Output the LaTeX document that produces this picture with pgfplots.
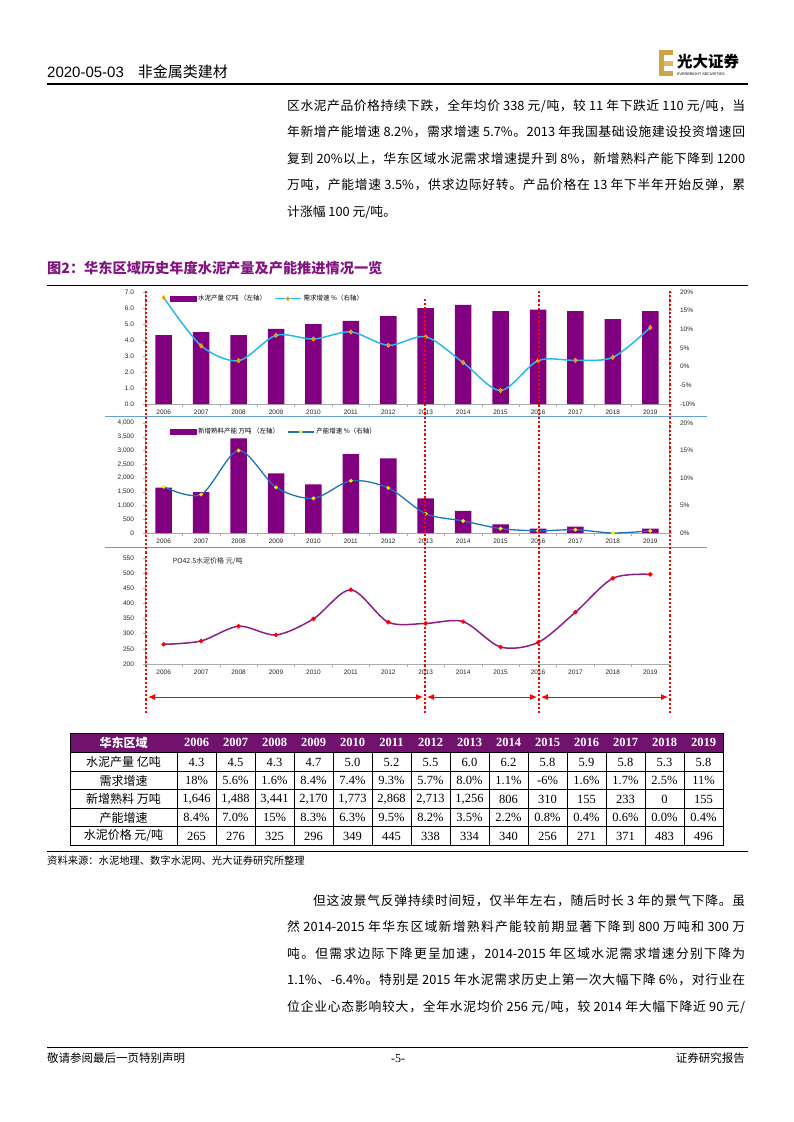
\documentclass[border=0pt]{standalone}
\usepackage{pgfplots}
\pgfplotsset{compat=1.18}
\usepackage{fontspec}
\setmainfont{Liberation Sans}
\newfontfamily\cjk{Noto Sans CJK SC}
\newfontfamily\tms{Liberation Serif}
\usetikzlibrary{arrows.meta}

% inter-character glue for justified CJK lines
\XeTeXinterchartokenstate=1
\newXeTeXintercharclass\cjkclass
\count255="4E00
\loop \XeTeXcharclass\count255=\cjkclass \advance\count255 by 1 \ifnum\count255<"A000 \repeat
\count255="3000
\loop \XeTeXcharclass\count255=\cjkclass \advance\count255 by 1 \ifnum\count255<"3040 \repeat
\count255="FF00
\loop \XeTeXcharclass\count255=\cjkclass \advance\count255 by 1 \ifnum\count255<"FFF0 \repeat
\XeTeXinterchartoks\cjkclass\cjkclass={\hskip 0pt plus 3pt minus 0.4pt\relax}
\XeTeXinterchartoks 0 \cjkclass={\hskip 0pt plus 3pt minus 0.4pt\relax}
\XeTeXinterchartoks\cjkclass 0 ={\hskip 0pt plus 3pt minus 0.4pt\relax}

\definecolor{barpurple}{RGB}{128,0,128}
\definecolor{titlepurple}{RGB}{130,20,130}
\definecolor{headpurple}{RGB}{112,18,110}
\definecolor{cyanline}{RGB}{40,185,235}
\definecolor{blueline}{RGB}{30,115,190}
\definecolor{sepblue}{RGB}{100,160,215}
\definecolor{priceline}{RGB}{140,30,140}
\definecolor{gold}{RGB}{205,165,70}
\definecolor{axgray}{RGB}{170,170,170}

\newcommand{\bl}[4]{\node[anchor=base west, inner sep=0pt] at (#1pt,-#2pt) {\cjk\fontsize{12.8}{13}\selectfont\hbox to #3pt{#4}};}
\newcommand{\trow}[2]{\foreach \v [count=\i] in {#2} {\node[font=\tms\fontsize{12.5}{12.5}\selectfont] at ({(157.5+39*\i)*1pt},{-#1*1pt}) {\v};}}

\pgfplotsset{
  myax/.style={scale only axis, width=524pt, xmin=-0.5, xmax=13.5,
    /pgf/number format/assume math mode=true,
    tick label style={font=\fontsize{6.5}{7}\selectfont, text=black!85},
    axis line style={draw=axgray, line width=0.6pt},
    tick style={draw=axgray, line width=0.5pt},
    major tick length=2.5pt, tick align=outside,
  },
  yrs/.style={xtick={-0.5,0.5,...,13.5}, x tick label as interval,
    xticklabels={2006,2007,2008,2009,2010,2011,2012,2013,2014,2015,2016,2017,2018,2019}},
}

\begin{document}
\begin{tikzpicture}
\path[fill=white] (0pt,0pt) rectangle (793pt,-1122pt);

% ---------- header ----------
\node[anchor=base west, inner sep=0pt] at (47pt,-77pt) {\fontsize{15}{15}\selectfont 2020-05-03\hspace{14pt}{\cjk 非金属类建材}};
\draw[line width=1.3pt] (47pt,-84pt) -- (748pt,-84pt);
\fill[gold] (659pt,-50pt) rectangle (664pt,-76pt);
\fill[gold] (664pt,-50pt) rectangle (673pt,-55pt);
\fill[gold!80!white] (664pt,-60.5pt) rectangle (673pt,-65.5pt);
\fill[gold] (664pt,-71pt) rectangle (673pt,-76pt);
\node[anchor=base west, inner sep=0pt] at (677pt,-67pt) {\cjk\bfseries\fontsize{15.5}{16}\selectfont 光大证券};
\node[anchor=base west, inner sep=0pt] at (677pt,-75.5pt) {\fontsize{3.7}{4}\selectfont EVERBRIGHT SECURITIES};

% ---------- paragraph 1 ----------
\bl{287}{110}{458}{区水泥产品价格持续下跌，全年均价 338 元/吨，较 11 年下跌近 110 元/吨，当}
\bl{287}{136.5}{458}{年新增产能增速 8.2\%，需求增速 5.7\%。2013 年我国基础设施建设投资增速回}
\bl{287}{163}{458}{复到 20\%以上，华东区域水泥需求增速提升到 8\%，新增熟料产能下降到 1200}
\bl{287}{189.5}{458}{万吨，产能增速 3.5\%，供求边际好转。产品价格在 13 年下半年开始反弹，累}
\node[anchor=base west, inner sep=0pt] at (287pt,-216pt) {\cjk\fontsize{12.8}{13}\selectfont 计涨幅 100 元/吨。};

% ---------- figure title ----------
\node[anchor=base west, inner sep=0pt] at (47pt,-273pt) {\cjk\bfseries\fontsize{14.2}{15}\selectfont\color{titlepurple} 图2：华东区域历史年度水泥产量及产能推进情况一览};
\draw[line width=0.8pt] (47pt,-285pt) -- (748pt,-285pt);

% ---------- chart 1 ----------
\begin{axis}[myax, yrs, at={(145pt,-404pt)}, anchor=south west, height=112pt,
  ymin=0, ymax=7, ytick={0,1,...,7},
  yticklabel style={xshift=-5pt, /pgf/number format/.cd, fixed, fixed zerofill, precision=1},
  axis x line*=bottom, axis y line*=left]
\addplot[ybar, bar width=16.5pt, fill=barpurple, draw=none] coordinates {
 (0,4.3) (1,4.5) (2,4.3) (3,4.7) (4,5.0) (5,5.2) (6,5.5) (7,6.0) (8,6.2) (9,5.8) (10,5.9) (11,5.8) (12,5.3) (13,5.8)};
\end{axis}
\begin{axis}[myax, at={(145pt,-404pt)}, anchor=south west, height=112pt,
  ymin=-10, ymax=20, ytick={-10,-5,...,20},
  yticklabels={-10\%,-5\%,0\%,5\%,10\%,15\%,20\%},
  yticklabel style={xshift=5pt},
  axis y line*=right, axis x line=none,
  legend style={at={(0.045,1)}, anchor=north west, draw=none, fill=none, legend columns=2,
    font=\cjk\fontsize{6.5}{7}\selectfont, inner sep=1pt,
    /tikz/every even column/.append style={column sep=6pt}},
  legend image code/.code={\draw[#1] (0pt,0pt) -- (26pt,0pt); \draw[#1, sharp plot] plot coordinates {(13pt,0pt)};}]
\addlegendimage{legend image code/.code={\fill[barpurple] (0pt,-2.5pt) rectangle (26pt,2.5pt);}}
\addlegendentry{水泥产量 亿吨 （左轴）}
\addplot[smooth, cyanline, line width=1.5pt, mark=diamond*, mark size=2.3pt,
  mark options={fill=orange, draw=yellow!70!orange, line width=0.4pt}] coordinates {
 (0,18.5) (1,5.6) (2,1.6) (3,8.4) (4,7.4) (5,9.3) (6,5.7) (7,8.0) (8,1.1) (9,-6.4) (10,1.6) (11,1.7) (12,2.5) (13,10.5)};
\addlegendentry{需求增速 \%（右轴）}
\end{axis}

\draw[sepblue, line width=1pt] (105pt,-416pt) -- (707pt,-416pt);

% ---------- chart 2 ----------
\begin{axis}[myax, yrs, at={(145pt,-533pt)}, anchor=south west, height=110pt,
  ymin=0, ymax=4000, ytick={0,500,...,4000},
  yticklabel style={xshift=-5pt, /pgf/number format/.cd, fixed, 1000 sep={,}},
  axis x line*=bottom, axis y line*=left]
\addplot[ybar, bar width=16.5pt, fill=barpurple, draw=none] coordinates {
 (0,1646) (1,1488) (2,3441) (3,2170) (4,1773) (5,2868) (6,2713) (7,1256) (8,806) (9,310) (10,155) (11,233) (12,0) (13,155)};
\end{axis}
\begin{axis}[myax, at={(145pt,-533pt)}, anchor=south west, height=110pt,
  ymin=0, ymax=20, ytick={0,5,...,20},
  yticklabels={0\%,5\%,10\%,15\%,20\%},
  yticklabel style={xshift=5pt},
  axis y line*=right, axis x line=none,
  legend style={at={(0.045,0.98)}, anchor=north west, draw=none, fill=none, legend columns=2,
    font=\cjk\fontsize{6.5}{7}\selectfont, inner sep=1pt,
    /tikz/every even column/.append style={column sep=6pt}},
  legend image code/.code={\draw[#1] (0pt,0pt) -- (26pt,0pt); \draw[#1, sharp plot] plot coordinates {(13pt,0pt)};}]
\addlegendimage{legend image code/.code={\fill[barpurple] (0pt,-2.5pt) rectangle (26pt,2.5pt);}}
\addlegendentry{新增熟料产能 万吨 （左轴）}
\addplot[smooth, blueline, line width=1.3pt, mark=*, mark size=1.8pt,
  mark options={fill=yellow, draw=yellow!85!orange, line width=0.3pt}] coordinates {
 (0,8.4) (1,7.0) (2,15.0) (3,8.3) (4,6.3) (5,9.5) (6,8.2) (7,3.5) (8,2.2) (9,0.8) (10,0.4) (11,0.6) (12,0.0) (13,0.4)};
\addlegendentry{产能增速 \%（右轴）}
\end{axis}

\draw[sepblue, line width=1pt] (105pt,-547pt) -- (707pt,-547pt);

% ---------- chart 3 ----------
\begin{axis}[myax, yrs, at={(145pt,-664pt)}, anchor=south west, height=106pt,
  ymin=200, ymax=550, ytick={200,250,...,550}, clip=false,
  yticklabel style={xshift=-5pt},
  axis x line*=bottom, axis y line*=left]
\addplot[smooth, priceline, line width=1.5pt, mark=*, mark size=1.4pt,
  mark options={fill=red, draw=red}] coordinates {
 (0,265) (1,276) (2,325) (3,296) (4,349) (5,445) (6,338) (7,334) (8,340) (9,256) (10,271) (11,371) (12,483) (13,496)};
\node[anchor=west, inner sep=0pt, font=\cjk\fontsize{7}{7}\selectfont, text=black!85] at (rel axis cs:0.053,0.97) {PO42.5水泥价格 元/吨};
\end{axis}

% ---------- red period markers ----------
\begin{scope}[red, line width=2.2pt, dash pattern=on 2.2pt off 2pt]
\draw (146pt,-291pt) -- (146pt,-714pt);
\draw (425pt,-299pt) -- (425pt,-714pt);
\draw (539pt,-291pt) -- (539pt,-714pt);
\draw (670pt,-291pt) -- (670pt,-714pt);
\end{scope}
\begin{scope}[red, line width=1pt, {Latex[length=7pt,width=6pt]}-{Latex[length=7pt,width=6pt]}]
\draw (148pt,-697pt) -- (423pt,-697pt);
\draw (427pt,-697pt) -- (537pt,-697pt);
\draw (541pt,-697pt) -- (668pt,-697pt);
\end{scope}

% ---------- table ----------
\fill[headpurple] (70pt,-733pt) rectangle (723pt,-752pt);
\node[white, font=\cjk\bfseries\fontsize{12}{12}\selectfont] at (123.5pt,-742.5pt) {华东区域};
\foreach \yr [count=\i] in {2006,2007,2008,2009,2010,2011,2012,2013,2014,2015,2016,2017,2018,2019}
  {\node[white, font=\tms\bfseries\fontsize{12.5}{12.5}\selectfont] at ({(157.5+39*\i)*1pt},-742.5pt) {\yr};}
\draw[line width=0.6pt] (70pt,-733pt) rectangle (723pt,-845pt);
\foreach \y in {752,771,789.5,808,826.5} {\draw[line width=0.6pt] (70pt,{-\y*1pt}) -- (723pt,{-\y*1pt});}
\foreach \k in {0,...,13} {\draw[line width=0.6pt] ({(177+39*\k)*1pt},-752pt) -- ({(177+39*\k)*1pt},-845pt);}
\foreach \lab/\y in {水泥产量 亿吨/762, 需求增速/780.5, 新增熟料 万吨/799, 产能增速/817.5, {水泥价格 元/吨}/836}
  {\node[font=\cjk\fontsize{12}{12}\selectfont] at (123.5pt,{-\y*1pt}) {\lab};}
\trow{762}{4.3,4.5,4.3,4.7,5.0,5.2,5.5,6.0,6.2,5.8,5.9,5.8,5.3,5.8}
\trow{780.5}{18\%,5.6\%,1.6\%,8.4\%,7.4\%,9.3\%,5.7\%,8.0\%,1.1\%,-6\%,1.6\%,1.7\%,2.5\%,11\%}
\trow{799}{{1,646},{1,488},{3,441},{2,170},{1,773},{2,868},{2,713},{1,256},806,310,155,233,0,155}
\trow{817.5}{8.4\%,7.0\%,15\%,8.3\%,6.3\%,9.5\%,8.2\%,3.5\%,2.2\%,0.8\%,0.4\%,0.6\%,0.0\%,0.4\%}
\trow{836}{265,276,325,296,349,445,338,334,340,256,271,371,483,496}

% ---------- source ----------
\draw[line width=0.9pt] (47pt,-851pt) -- (748pt,-851pt);
\node[anchor=base west, inner sep=0pt] at (47pt,-864pt) {\cjk\fontsize{10.3}{11}\selectfont 资料来源：水泥地理、数字水泥网、光大证券研究所整理};

% ---------- paragraph 2 ----------
\bl{313}{905}{432}{但这波景气反弹持续时间短，仅半年左右，随后时长 3 年的景气下降。虽}
\bl{287}{931.5}{458}{然 2014-2015 年华东区域新增熟料产能较前期显著下降到 800 万吨和 300 万}
\bl{287}{958}{458}{吨。但需求边际下降更呈加速，2014-2015 年区域水泥需求增速分别下降为}
\bl{287}{984.5}{458}{1.1\%、-6.4\%。特别是 2015 年水泥需求历史上第一次大幅下降 6\%，对行业在}
\bl{287}{1011}{458}{位企业心态影响较大，全年水泥均价 256 元/吨，较 2014 年大幅下降近 90 元/}

% ---------- footer ----------
\draw[line width=1pt] (47pt,-1047pt) -- (748pt,-1047pt);
\node[anchor=base west, inner sep=0pt] at (47pt,-1062pt) {\cjk\fontsize{11.5}{12}\selectfont 敬请参阅最后一页特别声明};
\node[anchor=base, inner sep=0pt] at (398pt,-1062pt) {\tms\fontsize{12}{12}\selectfont -5-};
\node[anchor=base east, inner sep=0pt] at (745pt,-1062pt) {\cjk\fontsize{11.5}{12}\selectfont 证券研究报告};
\end{tikzpicture}
\end{document}
